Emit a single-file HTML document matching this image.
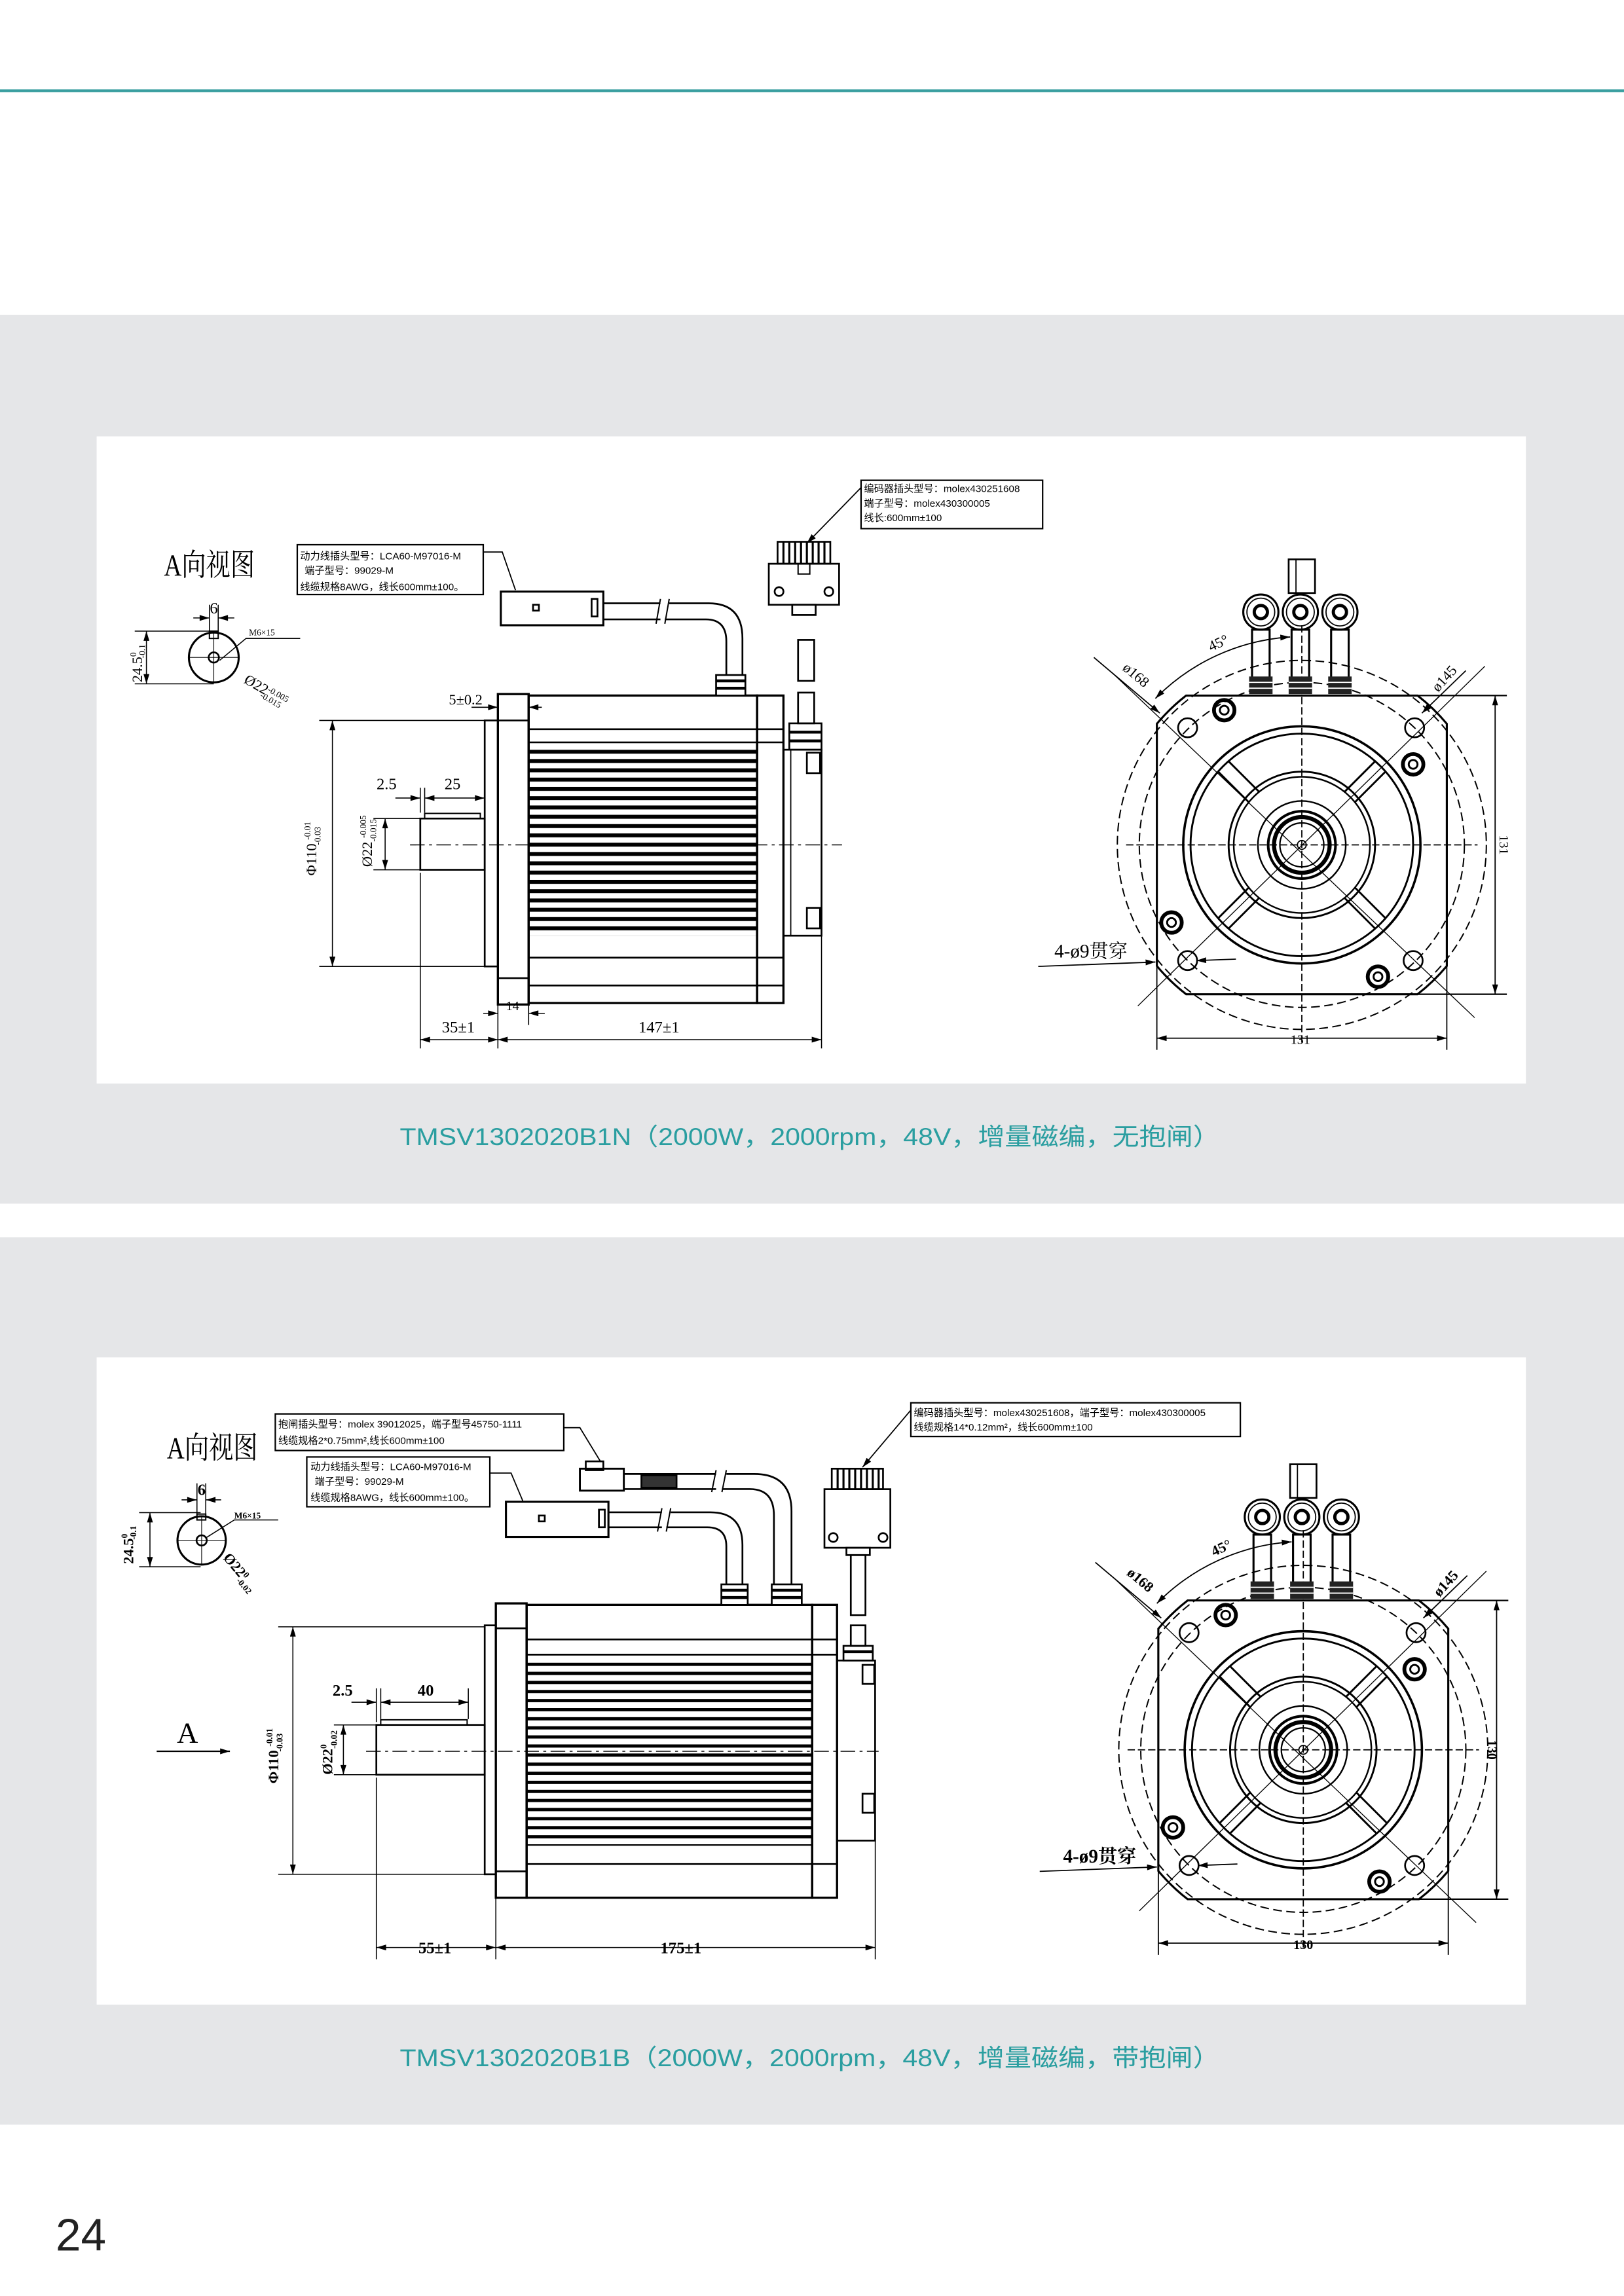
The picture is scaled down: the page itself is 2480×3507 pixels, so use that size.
<!DOCTYPE html>
<html><head><meta charset="utf-8">
<style>
html,body{margin:0;padding:0;background:#fff;}
svg{display:block;}
text{font-family:"Liberation Sans","Noto Sans CJK SC",sans-serif;}
.s text{font-family:"Liberation Serif","Noto Serif CJK SC",serif;}
</style></head>
<body>
<svg width="2480" height="3507" viewBox="0 0 1109 1568" preserveAspectRatio="none" xmlns="http://www.w3.org/2000/svg">
<defs>
<marker id="ar" viewBox="0 0 10 6" refX="10" refY="3" markerWidth="7" markerHeight="4" orient="auto-start-reverse" markerUnits="userSpaceOnUse">
<path d="M0,0 L10,3 L0,6 Z" fill="#000"/></marker>
<pattern id="fin1" x="0" y="512" width="10" height="6.35" patternUnits="userSpaceOnUse"><rect x="0" y="0" width="10" height="2.7" fill="#000"/></pattern>
<pattern id="fin2" x="0" y="1135.5" width="10" height="6.2" patternUnits="userSpaceOnUse"><rect x="0" y="0" width="10" height="2.2" fill="#000"/></pattern>
<g id="fv" fill="none" stroke="#000">
 <path d="M -79,-102 L 79,-102 A129 129 0 0 1 99,-82.7 L 99,82.7 A 129 129 0 0 1 79,102 L -79,102 A129 129 0 0 1 -99,82.7 L -99,-82.7 A129 129 0 0 1 -79,-102 Z" stroke-width="1.4"/>
 <line x1="79" y1="-102" x2="140" y2="-102" stroke-width="1"/>
 <line x1="79" y1="102" x2="140" y2="102" stroke-width="1"/>
 <line x1="-99" y1="82" x2="-99" y2="140" stroke-width="0.8"/>
 <line x1="99" y1="82" x2="99" y2="140" stroke-width="0.8"/>
 <line x1="132" y1="-102" x2="132" y2="102" stroke-width="0.8" marker-start="url(#ar)" marker-end="url(#ar)"/>
 <line x1="-99" y1="132" x2="99" y2="132" stroke-width="0.8" marker-start="url(#ar)" marker-end="url(#ar)"/>
 <circle r="126" stroke-width="0.9" stroke-dasharray="6 3"/>
 <circle r="111" stroke-width="0.9" stroke-dasharray="6 3"/>
 <path d="M -100,-100 A 142 142 0 0 1 -8,-142" stroke-width="0.8" marker-start="url(#ar)" marker-end="url(#ar)"/>
 <circle r="81" stroke-width="1.6"/>
 <circle r="76" stroke-width="1.3"/>
 <circle r="50" stroke-width="1.3"/>
 <circle r="46.5" stroke-width="1.1"/>
 <circle r="30" stroke-width="1.1"/>
 <circle r="23" stroke-width="1.8"/>
 <circle r="19" stroke-width="2.8"/>
 <circle r="15" stroke-width="1"/>
 <circle r="3" stroke-width="0.8"/>
 <g stroke-width="1.3">
  <g transform="rotate(45)"><line x1="-5" y1="-46.5" x2="-5" y2="-76"/><line x1="5" y1="-46.5" x2="5" y2="-76"/><line x1="-5" y1="46.5" x2="-5" y2="76"/><line x1="5" y1="46.5" x2="5" y2="76"/></g>
  <g transform="rotate(-45)"><line x1="-5" y1="-46.5" x2="-5" y2="-76"/><line x1="5" y1="-46.5" x2="5" y2="-76"/><line x1="-5" y1="46.5" x2="-5" y2="76"/><line x1="5" y1="46.5" x2="5" y2="76"/></g>
 </g>
 <line x1="-130" y1="-118" x2="118" y2="118" stroke-width="0.6"/>
 <line x1="125" y1="-122" x2="-112" y2="110" stroke-width="0.6"/>
 <line x1="-120" y1="0" x2="120" y2="0" stroke-width="0.8" stroke-dasharray="5 2"/>
 <line x1="0" y1="-150" x2="0" y2="135" stroke-width="0.8" stroke-dasharray="5 2"/>
 <g stroke-width="1.2"><circle cx="-78" cy="-80" r="6.5"/><circle cx="77" cy="-80" r="6.5"/><circle cx="-78" cy="79" r="6.5"/><circle cx="76" cy="79" r="6.5"/></g>
 <g stroke-width="2.6"><circle cx="-53" cy="-92" r="7"/><circle cx="76" cy="-55" r="7"/><circle cx="-89" cy="53" r="7"/><circle cx="52" cy="90" r="7"/></g>
 <g stroke-width="1.3"><circle cx="-53" cy="-92" r="3"/><circle cx="76" cy="-55" r="3"/><circle cx="-89" cy="53" r="3"/><circle cx="52" cy="90" r="3"/></g>
 <line x1="-180" y1="83" x2="-100" y2="80" stroke-width="0.8" marker-end="url(#ar)"/>
 <line x1="-45" y1="78" x2="-72" y2="79" stroke-width="0.8" marker-end="url(#ar)"/>
 <rect x="-9" y="-195" width="18" height="23" stroke-width="1.2"/>
 <line x1="-4" y1="-195" x2="-4" y2="-172" stroke-width="0.8"/>
 <g stroke-width="1.4">
  <rect x="-34" y="-147" width="12" height="33"/><rect x="-7" y="-147" width="12" height="33"/><rect x="20" y="-147" width="12" height="33"/>
  <circle cx="-28" cy="-159" r="12"/><circle cx="-1" cy="-159" r="12"/><circle cx="26" cy="-159" r="12"/>
 </g>
 <g stroke-width="0.8"><circle cx="-28" cy="-159" r="9.5"/><circle cx="-1" cy="-159" r="9.5"/><circle cx="26" cy="-159" r="9.5"/></g>
 <g stroke-width="2.2"><circle cx="-28" cy="-159" r="4.5"/><circle cx="-1" cy="-159" r="4.5"/><circle cx="26" cy="-159" r="4.5"/></g>
 <g fill="#222" stroke="none"><rect x="-36" y="-115" width="16" height="12"/><rect x="-9" y="-115" width="16" height="12"/><rect x="18" y="-115" width="16" height="12"/></g>
 <g stroke="#fff" stroke-width="0.8"><line x1="-36" y1="-111" x2="-20" y2="-111"/><line x1="-9" y1="-111" x2="7" y2="-111"/><line x1="18" y1="-111" x2="34" y2="-111"/><line x1="-36" y1="-107" x2="-20" y2="-107"/><line x1="-9" y1="-107" x2="7" y2="-107"/><line x1="18" y1="-107" x2="34" y2="-107"/></g>
 <line x1="-142" y1="-128" x2="-97" y2="-90" stroke-width="0.8" marker-end="url(#ar)"/>
 <line x1="112" y1="-119" x2="82" y2="-90" stroke-width="0.8" marker-end="url(#ar)"/>
</g>
</defs>

<rect x="0" y="0" width="1109" height="1568" fill="#fff"/>
<rect x="0" y="61" width="1109" height="2" fill="#3a9fa0"/>

<!-- PANEL 1 -->
<rect x="0" y="215" width="1109" height="607" fill="#e5e6e8"/>
<rect x="66" y="298" width="976" height="442" fill="#fff"/>
<text x="553" y="782" font-size="16.5" fill="#2a9ea0" text-anchor="middle" textLength="560" lengthAdjust="spacingAndGlyphs">TMSV1302020B1N（2000W，2000rpm，48V，增量磁编，无抱闸）</text>

<g fill="none" stroke="#000" stroke-width="1.2">
 <rect x="287" y="559" width="44" height="35"/>
 <rect x="290" y="555.5" width="38" height="3.5" stroke-width="0.9"/>
 <rect x="331" y="492" width="9" height="168"/>
 <rect x="340" y="474" width="21" height="212" stroke-width="1.5"/>
 <line x1="340" y1="492" x2="361" y2="492"/><line x1="340" y1="668" x2="361" y2="668"/>
 <rect x="361" y="475" width="156" height="210" stroke-width="1.5"/>
 <rect x="517" y="475" width="18" height="210" stroke-width="1.5"/>
 <line x1="361" y1="498" x2="535" y2="498"/><line x1="361" y1="507" x2="535" y2="507"/>
 <line x1="361" y1="654" x2="535" y2="654"/><line x1="361" y1="673" x2="535" y2="673"/>
 <rect x="361" y="512" width="156" height="127" fill="url(#fin1)" stroke="none"/>
 <rect x="535" y="512" width="26" height="127"/>
 <line x1="540" y1="512" x2="540" y2="639" stroke-width="0.8"/>
 <rect x="551" y="514" width="9" height="14"/><rect x="551" y="620" width="9" height="14"/>
 <line x1="280" y1="577" x2="575" y2="577" stroke-width="0.7" stroke-dasharray="10 3 2 3"/>
 <rect x="539" y="494" width="22" height="18"/>
 <line x1="539" y1="500" x2="561" y2="500" stroke-width="2"/><line x1="539" y1="506" x2="561" y2="506" stroke-width="2"/>
 <rect x="545" y="473" width="11" height="21"/>
 <rect x="545" y="437" width="11" height="28"/>
 <rect x="541" y="413" width="16" height="7"/>
 <rect x="525" y="385" width="48" height="28"/>
 <rect x="531" y="370" width="36" height="15"/>
 <path d="M535,370 v15 M539,370 v15 M543,370 v15 M547,370 v15 M551,370 v15 M555,370 v15 M559,370 v15 M563,370 v15" stroke-width="1.4"/>
 <rect x="545" y="385" width="8" height="7" stroke-width="0.9"/>
 <circle cx="532" cy="404" r="3"/><circle cx="566" cy="404" r="3"/>
 <rect x="342" y="404" width="70" height="23" stroke-width="1.4"/>
 <rect x="364" y="413" width="4" height="4"/>
 <rect x="404" y="409" width="4" height="12"/>
 <line x1="412" y1="412" x2="451" y2="412"/><line x1="412" y1="423" x2="451" y2="423"/>
 <path d="M451,409 l-3,17 M457,409 l-3,17" stroke-width="0.9"/>
 <path d="M457,412 L484,412 Q507,412 507,436 L507,461"/>
 <path d="M454,423 L482,423 Q496,423 496,438 L496,461"/>
 <rect x="489" y="461" width="20" height="14" fill="#fff"/>
 <line x1="489" y1="465" x2="509" y2="465" stroke-width="2"/><line x1="489" y1="470" x2="509" y2="470" stroke-width="2"/>
 <rect x="203" y="372" width="127" height="34" stroke-width="1"/>
 <polyline points="330,377 343,377 352,403" stroke-width="0.8"/>
 <rect x="588" y="328" width="124" height="33" stroke-width="1"/>
 <line x1="588" y1="333" x2="551" y2="371" stroke-width="0.8" marker-end="url(#ar)"/>
 <circle cx="146" cy="449" r="17" stroke-width="1.4"/>
 <rect x="143" y="431" width="6" height="5" stroke-width="0.9"/>
 <circle cx="146" cy="449" r="3.5"/>
 <line x1="129" y1="449" x2="163" y2="449" stroke-width="0.5"/><line x1="146" y1="432" x2="146" y2="466" stroke-width="0.5"/>
 <g stroke-width="0.7">
  <line x1="143" y1="413" x2="143" y2="432"/><line x1="149" y1="413" x2="149" y2="432"/>
  <line x1="132" y1="422" x2="143" y2="422" marker-end="url(#ar)"/><line x1="160" y1="422" x2="149" y2="422" marker-end="url(#ar)"/>
  <line x1="92" y1="431" x2="146" y2="431"/><line x1="92" y1="467" x2="146" y2="467"/>
  <line x1="100" y1="431" x2="100" y2="467" marker-start="url(#ar)" marker-end="url(#ar)"/>
  <polyline points="150,451 168,436 205,436"/>
 </g>
 <g stroke-width="0.7">
  <line x1="218" y1="492" x2="331" y2="492"/><line x1="218" y1="660" x2="331" y2="660"/>
  <line x1="227" y1="492" x2="227" y2="660" marker-start="url(#ar)" marker-end="url(#ar)"/>
  <line x1="255" y1="559" x2="287" y2="559"/><line x1="255" y1="594" x2="287" y2="594"/>
  <line x1="263" y1="559" x2="263" y2="594" marker-start="url(#ar)" marker-end="url(#ar)"/>
  <line x1="287" y1="538" x2="287" y2="555"/><line x1="290" y1="538" x2="290" y2="555"/><line x1="331" y1="538" x2="331" y2="555"/>
  <line x1="270" y1="545" x2="287" y2="545" marker-end="url(#ar)"/>
  <line x1="290" y1="545" x2="331" y2="545" marker-start="url(#ar)" marker-end="url(#ar)"/>
  <line x1="322" y1="483" x2="340" y2="483" marker-end="url(#ar)"/><line x1="370" y1="483" x2="361" y2="483" marker-end="url(#ar)"/>
  <line x1="287" y1="596" x2="287" y2="716"/><line x1="340" y1="686" x2="340" y2="716"/><line x1="561" y1="639" x2="561" y2="716"/>
  <line x1="287" y1="710" x2="340" y2="710" marker-start="url(#ar)" marker-end="url(#ar)"/>
  <line x1="340" y1="710" x2="561" y2="710" marker-start="url(#ar)" marker-end="url(#ar)"/>
  <line x1="361" y1="686" x2="361" y2="700"/>
  <line x1="330" y1="692" x2="340" y2="692" marker-end="url(#ar)"/><line x1="372" y1="692" x2="361" y2="692" marker-end="url(#ar)"/>
 </g>
</g>
<use href="#fv" x="889" y="577"/>

<g class="s" font-size="10" fill="#000">
 <text x="112" y="393" font-size="21" textLength="62" lengthAdjust="spacingAndGlyphs">A向视图</text>
 <text x="146" y="419" text-anchor="middle" font-size="11">6</text>
 <text x="170" y="434" font-size="6">M6×15</text>
 <text transform="translate(97,466) rotate(-90)" font-size="10">24.5<tspan font-size="6" dy="-4">0</tspan><tspan font-size="6" dx="-4" dy="6">-0.1</tspan></text>
 <text transform="translate(166,466) rotate(30)" font-size="10">Ø22<tspan font-size="6" dy="-3">-0.005</tspan><tspan font-size="6" dx="-18" dy="6">-0.015</tspan></text>
 <text transform="translate(216,598) rotate(-90)" font-size="10">Φ110 <tspan font-size="6" dy="-4">-0.01</tspan><tspan font-size="6" dx="-16" dy="7">-0.03</tspan></text>
 <text transform="translate(254,592) rotate(-90)" font-size="10">Ø22 <tspan font-size="6" dy="-4">-0.005</tspan><tspan font-size="6" dx="-18" dy="7">-0.015</tspan></text>
 <text x="264" y="539" text-anchor="middle" font-size="11">2.5</text>
 <text x="309" y="539" text-anchor="middle" font-size="11">25</text>
 <text x="318" y="481" text-anchor="middle" font-size="10">5±0.2</text>
 <text x="350" y="690" text-anchor="middle" font-size="9">14</text>
 <text x="313" y="705" text-anchor="middle" font-size="11">35±1</text>
 <text x="450" y="705" text-anchor="middle" font-size="11">147±1</text>
 <text x="720" y="654" font-size="13" textLength="50" lengthAdjust="spacingAndGlyphs">4-ø9贯穿</text>
 <text transform="translate(827,445) rotate(-25)" font-size="10">45°</text>
 <text transform="translate(766,457) rotate(40)" font-size="10">ø168</text>
 <text transform="translate(982,473) rotate(-48)" font-size="10">ø145</text>
 <text transform="translate(1024,577) rotate(90)" text-anchor="middle" font-size="9">131</text>
 <text x="888" y="713" text-anchor="middle" font-size="9">131</text>
</g>
<g font-size="6.8" fill="#000">
 <text x="205" y="382">动力线插头型号：LCA60-M97016-M</text>
 <text x="208" y="392">端子型号：99029-M</text>
 <text x="205" y="403">线缆规格8AWG，线长600mm±100。</text>
 <text x="590" y="336">编码器插头型号：molex430251608</text>
 <text x="590" y="346">端子型号：molex430300005</text>
 <text x="590" y="356">线长:600mm±100</text>
</g>

<!-- PANEL 2 -->
<rect x="0" y="845" width="1109" height="606" fill="#e5e6e8"/>
<rect x="66" y="927" width="976" height="442" fill="#fff"/>
<text x="553" y="1411" font-size="16.5" fill="#2a9ea0" text-anchor="middle" textLength="560" lengthAdjust="spacingAndGlyphs">TMSV1302020B1B（2000W，2000rpm，48V，增量磁编，带抱闸）</text>

<g fill="none" stroke="#000" stroke-width="1.2">
 <rect x="257" y="1178" width="74" height="34"/>
 <rect x="260" y="1174.5" width="59" height="3.5" stroke-width="0.9"/>
 <rect x="331" y="1110" width="7.6" height="170"/>
 <rect x="338.6" y="1095" width="21" height="201" stroke-width="1.5"/>
 <line x1="338.6" y1="1112" x2="359.6" y2="1112"/><line x1="338.6" y1="1278" x2="359.6" y2="1278"/>
 <rect x="359.6" y="1096" width="195" height="200" stroke-width="1.5"/>
 <rect x="554.6" y="1096" width="17" height="200" stroke-width="1.5"/>
 <line x1="359.6" y1="1119.6" x2="571.6" y2="1119.6"/><line x1="359.6" y1="1130" x2="571.6" y2="1130"/>
 <line x1="359.6" y1="1273" x2="571.6" y2="1273"/>
 <rect x="359.6" y="1135.5" width="195" height="125" fill="url(#fin2)" stroke="none"/>
 <rect x="571.6" y="1134" width="26" height="123"/>
 <rect x="589" y="1137" width="8" height="13"/><rect x="589" y="1225" width="8" height="13"/>
 <line x1="250" y1="1196" x2="600" y2="1196" stroke-width="0.7" stroke-dasharray="10 3 2 3"/>
 <rect x="576" y="1124" width="20" height="10"/>
 <line x1="576" y1="1128" x2="596" y2="1128" stroke-width="2"/>
 <rect x="581" y="1110" width="10" height="14"/>
 <rect x="581" y="1062" width="10" height="41"/>
 <rect x="578" y="1057" width="16" height="5"/>
 <rect x="563" y="1017" width="45" height="40"/>
 <rect x="568" y="1003" width="35" height="14"/>
 <path d="M572,1003 v14 M576,1003 v14 M580,1003 v14 M584,1003 v14 M588,1003 v14 M592,1003 v14 M596,1003 v14 M600,1003 v14" stroke-width="1.4"/>
 <circle cx="569" cy="1050" r="3"/><circle cx="603" cy="1050" r="3"/>
 <rect x="345.5" y="1025.6" width="70" height="24" stroke-width="1.4"/>
 <rect x="368" y="1035" width="4" height="4"/>
 <rect x="409" y="1031" width="4" height="12"/>
 <line x1="415.6" y1="1032.8" x2="452" y2="1032.8"/><line x1="415.6" y1="1043" x2="452" y2="1043"/>
 <path d="M452,1030 l-3,16 M458,1030 l-3,16" stroke-width="0.9"/>
 <path d="M458,1032.8 L485,1032.8 Q507,1032.8 507,1055 L507,1082"/>
 <path d="M455,1043 L483,1043 Q496,1043 496,1056 L496,1082"/>
 <rect x="492.6" y="1082" width="18" height="14" fill="#fff"/>
 <line x1="492.6" y1="1086" x2="510.6" y2="1086" stroke-width="2"/><line x1="492.6" y1="1091" x2="510.6" y2="1091" stroke-width="2"/>
 <rect x="396" y="1003" width="30" height="15" stroke-width="1.3"/>
 <rect x="400" y="998" width="12" height="6"/>
 <line x1="426" y1="1006.6" x2="489" y2="1006.6"/><line x1="426" y1="1016.9" x2="489" y2="1016.9"/>
 <rect x="438" y="1007.5" width="24" height="8.5" fill="#333"/>
 <path d="M489,1004 l-3,15 M496,1004 l-3,15" stroke-width="0.9"/>
 <path d="M496,1006.6 L515,1006.6 Q540.5,1006.6 540.5,1032 L540.5,1082"/>
 <path d="M493,1016.9 L512,1016.9 Q528.5,1016.9 528.5,1035 L528.5,1082"/>
 <rect x="527" y="1082" width="20.5" height="14" fill="#fff"/>
 <line x1="527" y1="1086" x2="547.5" y2="1086" stroke-width="2"/><line x1="527" y1="1091" x2="547.5" y2="1091" stroke-width="2"/>
 <rect x="188" y="965.6" width="197" height="25" stroke-width="1"/>
 <polyline points="385,975 396,975 410,998" stroke-width="0.8"/>
 <rect x="209.5" y="995" width="125" height="34" stroke-width="1"/>
 <polyline points="334.5,1006 349,1006 357,1025" stroke-width="0.8"/>
 <rect x="622" y="958" width="225" height="23" stroke-width="1"/>
 <line x1="622" y1="963" x2="589" y2="1002" stroke-width="0.8" marker-end="url(#ar)"/>
 <circle cx="137.7" cy="1052" r="16.5" stroke-width="1.4"/>
 <rect x="134.5" y="1034" width="6" height="4" stroke-width="0.9"/>
 <circle cx="137.7" cy="1052" r="3.5"/>
 <line x1="121" y1="1052" x2="154" y2="1052" stroke-width="0.5"/><line x1="137.7" y1="1036" x2="137.7" y2="1068" stroke-width="0.5"/>
 <g stroke-width="0.7">
  <line x1="134.5" y1="1013" x2="134.5" y2="1034"/><line x1="140.5" y1="1013" x2="140.5" y2="1034"/>
  <line x1="124" y1="1024.3" x2="134.5" y2="1024.3" marker-end="url(#ar)"/><line x1="151" y1="1024.3" x2="140.5" y2="1024.3" marker-end="url(#ar)"/>
  <line x1="95" y1="1033" x2="137" y2="1033"/><line x1="95" y1="1070" x2="137" y2="1070"/>
  <line x1="102.4" y1="1033" x2="102.4" y2="1070" marker-start="url(#ar)" marker-end="url(#ar)"/>
  <polyline points="141,1050 160,1038 190,1038"/>
 </g>
 <g stroke-width="0.7">
  <line x1="190" y1="1111" x2="331" y2="1111"/><line x1="190" y1="1280" x2="331" y2="1280"/>
  <line x1="200" y1="1111" x2="200" y2="1280" marker-start="url(#ar)" marker-end="url(#ar)"/>
  <line x1="228" y1="1178" x2="257" y2="1178"/><line x1="228" y1="1212" x2="257" y2="1212"/>
  <line x1="234.5" y1="1178" x2="234.5" y2="1212" marker-start="url(#ar)" marker-end="url(#ar)"/>
  <line x1="257" y1="1153" x2="257" y2="1176"/><line x1="260" y1="1153" x2="260" y2="1174"/><line x1="319.8" y1="1153" x2="319.8" y2="1174"/>
  <line x1="240" y1="1162.5" x2="257" y2="1162.5" marker-end="url(#ar)"/>
  <line x1="260" y1="1162.5" x2="319.8" y2="1162.5" marker-start="url(#ar)" marker-end="url(#ar)"/>
  <line x1="257" y1="1214" x2="257" y2="1338"/><line x1="338.6" y1="1296" x2="338.6" y2="1338"/><line x1="597.7" y1="1257" x2="597.7" y2="1338"/>
  <line x1="257" y1="1330" x2="338.6" y2="1330" marker-start="url(#ar)" marker-end="url(#ar)"/>
  <line x1="338.6" y1="1330" x2="597.7" y2="1330" marker-start="url(#ar)" marker-end="url(#ar)"/>
  <line x1="107" y1="1196" x2="157" y2="1196" stroke-width="1" marker-end="url(#ar)"/>
 </g>
</g>
<use href="#fv" x="890" y="1195"/>

<g class="s" font-size="10" fill="#000" font-weight="bold">
 <text x="114" y="996" font-size="21" textLength="62" lengthAdjust="spacingAndGlyphs" font-weight="normal">A向视图</text>
 <text x="137.7" y="1021" text-anchor="middle" font-size="11">6</text>
 <text x="160" y="1037" font-size="6">M6×15</text>
 <text transform="translate(91,1068) rotate(-90)" font-size="10">24.5<tspan font-size="6" dy="-4">0</tspan><tspan font-size="6" dx="-4" dy="6">-0.1</tspan></text>
 <text transform="translate(152,1064) rotate(50)" font-size="10">Ø22<tspan font-size="6" dy="-3">0</tspan><tspan font-size="6" dx="-3" dy="6">-0.02</tspan></text>
 <text transform="translate(190,1218) rotate(-90)" font-size="10">Φ110 <tspan font-size="6" dy="-4">-0.01</tspan><tspan font-size="6" dx="-16" dy="7">-0.03</tspan></text>
 <text transform="translate(227,1212) rotate(-90)" font-size="10">Ø22<tspan font-size="6" dy="-4">0</tspan><tspan font-size="6" dx="-3" dy="7">-0.02</tspan></text>
 <text x="234" y="1158" text-anchor="middle" font-size="11">2.5</text>
 <text x="290.7" y="1158" text-anchor="middle" font-size="11">40</text>
 <text x="128" y="1190" text-anchor="middle" font-size="20" font-weight="normal">A</text>
 <text x="297" y="1334" text-anchor="middle" font-size="11">55±1</text>
 <text x="465" y="1334" text-anchor="middle" font-size="11">175±1</text>
 <text x="726" y="1272" font-size="13" textLength="50" lengthAdjust="spacingAndGlyphs">4-ø9贯穿</text>
 <text transform="translate(829,1063) rotate(-25)" font-size="10">45°</text>
 <text transform="translate(769,1075) rotate(40)" font-size="10">ø168</text>
 <text transform="translate(983,1091) rotate(-48)" font-size="10">ø145</text>
 <text transform="translate(1016,1195) rotate(90)" text-anchor="middle" font-size="9">130</text>
 <text x="890" y="1331" text-anchor="middle" font-size="9">130</text>
</g>
<g font-size="6.8" fill="#000">
 <text x="190" y="975">抱闸插头型号：molex 39012025，端子型号45750-1111</text>
 <text x="190" y="986">线缆规格2*0.75mm²,线长600mm±100</text>
 <text x="212" y="1004">动力线插头型号：LCA60-M97016-M</text>
 <text x="215" y="1014">端子型号：99029-M</text>
 <text x="212" y="1025">线缆规格8AWG，线长600mm±100。</text>
 <text x="624" y="967">编码器插头型号：molex430251608，端子型号：molex430300005</text>
 <text x="624" y="977">线缆规格14*0.12mm²，线长600mm±100</text>
</g>

<text x="38" y="1537" font-size="31" fill="#222">24</text>
</svg>
</body></html>
